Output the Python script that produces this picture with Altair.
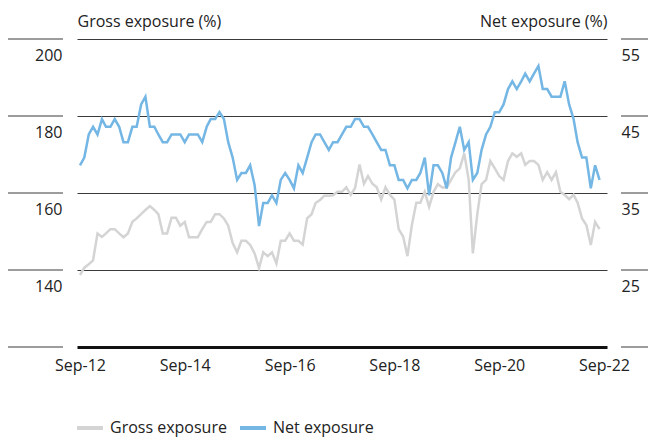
import altair as alt
import pandas as pd

# ---------------- data ----------------
months = pd.date_range("2012-09-01", periods=120, freq="MS").strftime("%Y-%m-%d").tolist()

gross = [
    138.7, 140.6, 141.5, 142.5, 149.5, 148.6, 149.5, 150.6, 150.6, 149.5,
    148.5, 149.5, 152.5, 153.4, 154.5, 155.6, 156.6, 155.6, 154.5, 149.5,
    149.5, 153.6, 153.6, 151.5, 152.5, 148.5, 148.5, 148.5, 150.6, 152.5,
    152.5, 154.5, 154.5, 153.4, 151.5, 147.0, 144.6, 147.6, 147.6, 146.5,
    144.3, 140.5, 144.6, 143.6, 144.6, 141.7, 147.6, 147.6, 149.5, 147.6,
    147.6, 146.6, 153.4, 154.5, 157.4, 158.2, 159.3, 159.3, 159.4, 160.3,
    160.3, 161.5, 159.5, 161.3, 167.4, 162.4, 164.4, 162.4, 161.5, 158.3,
    161.5, 159.5, 158.3, 150.6, 148.7, 143.6, 151.7, 157.5, 157.5, 160.3,
    156.4, 160.3, 162.3, 161.4, 161.4, 163.4, 165.4, 166.4, 170.3, 163.4,
    144.3, 154.5, 162.3, 163.4, 168.3, 166.4, 164.4, 163.4, 168.3, 170.3,
    169.4, 170.3, 167.3, 168.3, 168.3, 167.3, 163.4, 165.4, 163.4, 165.4,
    160.3, 159.5, 158.4, 159.5, 157.5, 153.4, 151.7, 146.5, 152.5, 150.6,
]

net = [
    38.6, 39.6, 42.6, 43.6, 42.6, 44.6, 43.6, 43.6, 44.6, 43.6,
    41.6, 41.6, 43.6, 43.6, 46.5, 47.5, 43.6, 43.6, 42.6, 41.6,
    41.6, 42.6, 42.6, 42.6, 41.6, 42.6, 42.6, 42.6, 41.6, 43.6,
    44.6, 44.6, 45.5, 44.6, 41.6, 39.6, 36.7, 37.6, 37.6, 38.6,
    36.0, 30.7, 33.7, 33.7, 34.7, 33.7, 36.7, 37.6, 36.7, 35.6,
    38.6, 37.6, 39.6, 41.6, 42.6, 42.6, 41.6, 40.6, 41.6, 41.6,
    42.6, 43.6, 43.6, 44.6, 44.6, 43.6, 43.6, 42.6, 41.6, 40.6,
    40.6, 38.6, 38.6, 36.7, 36.7, 35.6, 36.7, 36.7, 37.6, 39.6,
    34.7, 38.6, 38.6, 37.6, 35.6, 39.6, 41.6, 43.6, 40.6, 41.6,
    36.7, 37.6, 40.6, 42.6, 43.6, 45.5, 45.5, 46.5, 48.5, 49.5,
    48.5, 49.5, 50.5, 49.5, 50.5, 51.5, 48.5, 48.5, 47.5, 47.5,
    47.5, 49.5, 46.5, 44.6, 41.6, 39.6, 39.6, 35.6, 38.6, 36.7,
]

series_names = ["Gross exposure", "Net exposure"]
series_colors = ["#d4d4d4", "#74b6e4"]
gross_domain = [120, 200]
net_domain = [15, 55]
gross_ticks = [140, 160, 180, 200]
net_ticks = [25, 35, 45, 55]
grid_levels = [120, 140, 160, 180, 200]
x_tick_years = [2012, 2014, 2016, 2018, 2020, 2022]

gross_df = pd.DataFrame({"date": months, "value": gross, "series": series_names[0]})
net_df = pd.DataFrame({"date": months, "value": net, "series": series_names[1]})
levels_df = pd.DataFrame({"level": grid_levels})

# ---------------- styling ----------------
FONT = "Open Sans"
TXT = "#222222"
GRID = "#3a3a3a"
LEG_Y = 389  # legend row, pixels below the plot top

x_enc = alt.X(
    "date:T",
    scale=alt.Scale(
        domain=[alt.DateTime(year=2012, month=9, date=1), alt.DateTime(year=2022, month=9, date=1)],
        padding=3,
    ),
    axis=alt.Axis(
        values=[alt.DateTime(year=y, month=9, date=1) for y in x_tick_years],
        format="%b-%y",
        title=None,
        ticks=False,
        grid=False,
        domainWidth=3,
        domainColor="#111111",
        labelPadding=10,
        labelFontSize=16,
        labelColor=TXT,
        labelFont=FONT,
    ),
)

color_scale = alt.Scale(domain=series_names, range=series_colors)
color_enc = alt.Color("series:N", scale=color_scale, legend=None)

left_seg = alt.Chart(levels_df).mark_rule(color=GRID, strokeWidth=1).encode(
    y=alt.Y("level:Q", scale=alt.Scale(domain=gross_domain, nice=False, zero=False), axis=None),
    x=alt.value(-70),
    x2=alt.value(-14),
)
right_seg = alt.Chart(levels_df).mark_rule(color=GRID, strokeWidth=1).encode(
    y=alt.Y("level:Q", scale=alt.Scale(domain=gross_domain, nice=False, zero=False), axis=None),
    x=alt.value(544),
    x2=alt.value(582),
)

gross_line = alt.Chart(gross_df).mark_line(strokeWidth=2.5).encode(
    x=x_enc,
    y=alt.Y(
        "value:Q",
        scale=alt.Scale(domain=gross_domain, nice=False, zero=False),
        axis=alt.Axis(
            orient="left",
            values=gross_ticks,
            title="Gross exposure (%)",
            titleAngle=0,
            titleX=0,
            titleY=-13,
            titleAlign="left",
            titleBaseline="alphabetic",
            titleFont=FONT,
            titleFontSize=16,
            titleFontWeight="normal",
            titleColor=TXT,
            ticks=False,
            domain=False,
            grid=True,
            gridColor=GRID,
            gridWidth=1,
            labelPadding=15,
            labelOffset=21,
            labelBaseline="alphabetic",
            labelFontSize=16,
            labelFont=FONT,
            labelColor=TXT,
        ),
    ),
    color=color_enc,
)

net_line = alt.Chart(net_df).mark_line(strokeWidth=2.5).encode(
    x=x_enc,
    y=alt.Y(
        "value:Q",
        scale=alt.Scale(domain=net_domain, nice=False, zero=False),
        axis=alt.Axis(
            orient="right",
            values=net_ticks,
            title="Net exposure (%)",
            titleAngle=0,
            titleX=0,
            titleY=-13,
            titleAlign="right",
            titleBaseline="alphabetic",
            titleFont=FONT,
            titleFontSize=16,
            titleFontWeight="normal",
            titleColor=TXT,
            ticks=False,
            domain=False,
            grid=False,
            labelPadding=14,
            labelOffset=21,
            labelBaseline="alphabetic",
            labelAlign="left",
            labelFontSize=16,
            labelFont=FONT,
            labelColor=TXT,
        ),
    ),
    color=color_enc,
)

# ---------------- legend (swatch + label per series) ----------------
legend_layers = []
for name, x0 in zip(series_names, [0, 163]):
    ldf = pd.DataFrame({"series": [name]})
    sw = alt.Chart(ldf).mark_rule(strokeWidth=4).encode(
        x=alt.value(x0), x2=alt.value(x0 + 26), y=alt.value(LEG_Y), color=color_enc
    )
    tx = alt.Chart(ldf).mark_text(
        align="left", baseline="middle", fontSize=16, font=FONT, color=TXT
    ).encode(x=alt.value(x0 + 33), y=alt.value(LEG_Y), text="series:N")
    legend_layers += [sw, tx]

chart = (
    alt.layer(left_seg, right_seg, gross_line, net_line, *legend_layers)
    .resolve_scale(y="independent")
    .properties(
        width=530,
        height=308,
        autosize=alt.AutoSizeParams(type="none"),
        padding={"left": 69, "top": 31, "right": 41, "bottom": 91},
        background="white",
    )
    .configure_view(stroke=None)
)

chart.save("out.html", embed_options={"renderer": "svg", "actions": False})
